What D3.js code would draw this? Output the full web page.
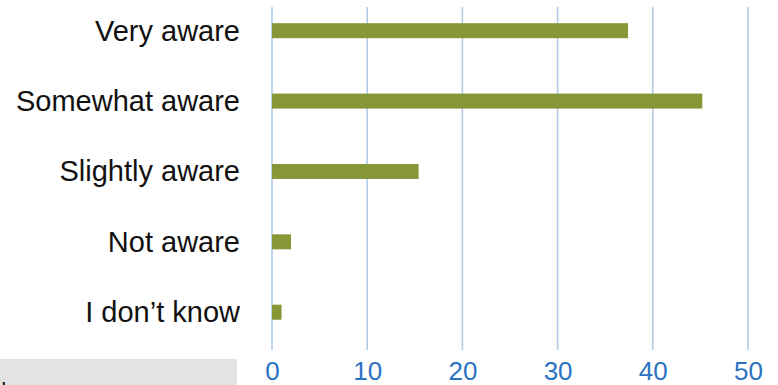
<!DOCTYPE html>
<html>
<head>
<meta charset="utf-8">
<script src="https://cdn.jsdelivr.net/npm/d3@7"></script>
<style>
  html, body { margin: 0; padding: 0; background: #fff; }
  svg { display: block; }
  text { font-family: "Liberation Sans", Arial, Helvetica, sans-serif; }
</style>
</head>
<body>
<svg id="chart" width="778" height="385"></svg>
<script>
// Awareness survey responses (percent)
const categories = ["Very aware", "Somewhat aware", "Slightly aware", "Not aware", "I don\u2019t know"];
const values = [37.4, 45.2, 15.4, 2.0, 1.0];
const tickValues = [0, 10, 20, 30, 40, 50];

const W = 778, H = 385;
const svg = d3.select("#chart");

const x = d3.scaleLinear().domain([0, 50]).range([272, 748]);
const y = d3.scalePoint().domain(categories).range([30.7, 312.2]);
const barH = 15;
const gridTop = 7, gridBottom = 350;

// vertical gridlines
svg.append("g")
  .selectAll("line")
  .data(tickValues)
  .join("line")
  .attr("x1", d => x(d)).attr("x2", d => x(d))
  .attr("y1", gridTop).attr("y2", gridBottom)
  .attr("stroke", "#b2cbe7")
  .attr("stroke-width", 1.6);

// value axis labels
const xAxis = d3.axisBottom(x).tickValues(tickValues).tickSize(0).tickPadding(0).tickFormat(d3.format("d"));
const ax = svg.append("g").attr("transform", `translate(0,${gridBottom})`).call(xAxis);
ax.select(".domain").remove();
ax.selectAll("text")
  .attr("y", 29.5)
  .attr("dy", 0)
  .attr("fill", "#2b73c1")
  .style("font-size", "26px");

// bars
svg.append("g")
  .selectAll("rect")
  .data(categories)
  .join("rect")
  .attr("x", x(0))
  .attr("y", d => y(d) - barH / 2)
  .attr("width", (d, i) => x(values[i]) - x(0))
  .attr("height", barH)
  .attr("fill", "#879637");

// category labels
svg.append("g")
  .selectAll("text")
  .data(categories)
  .join("text")
  .attr("x", 240)
  .attr("y", d => y(d) + 10)
  .attr("text-anchor", "end")
  .attr("fill", "#111")
  .style("font-size", "29px")
  .text(d => d);

// footer panel at lower left
svg.append("rect")
  .attr("x", 0).attr("y", 359)
  .attr("width", 237).attr("height", H - 359)
  .attr("fill", "#e3e3e3");
svg.append("text")
  .attr("x", 1).attr("y", 396)
  .attr("fill", "#111")
  .style("font-size", "20px")
  .text("I");
</script>
</body>
</html>
